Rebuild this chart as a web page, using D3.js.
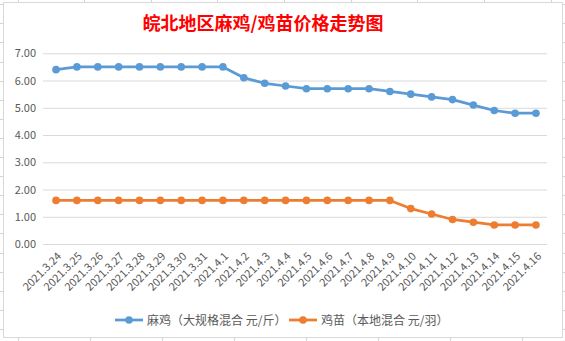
<!DOCTYPE html>
<html><head><meta charset="utf-8">
<script src="https://cdn.jsdelivr.net/npm/d3@7"></script>
<style>body{margin:0;background:#fff}svg{display:block}</style>
</head><body><svg id="c" width="565" height="341"></svg>
<script>
const title = "皖北地区麻鸡/鸡苗价格走势图";
const categories = ["2021.3.24","2021.3.25","2021.3.26","2021.3.27","2021.3.28","2021.3.29","2021.3.30","2021.3.31","2021.4.1","2021.4.2","2021.4.3","2021.4.4","2021.4.5","2021.4.6","2021.4.7","2021.4.8","2021.4.9","2021.4.10","2021.4.11","2021.4.12","2021.4.13","2021.4.14","2021.4.15","2021.4.16"];
const maji = [6.4,6.5,6.5,6.5,6.5,6.5,6.5,6.5,6.5,6.1,5.9,5.8,5.7,5.7,5.7,5.7,5.6,5.5,5.4,5.3,5.1,4.9,4.8,4.8];
const jimiao = [1.6,1.6,1.6,1.6,1.6,1.6,1.6,1.6,1.6,1.6,1.6,1.6,1.6,1.6,1.6,1.6,1.6,1.3,1.1,0.9,0.8,0.7,0.7,0.7];
const seriesNames = ["麻鸡（大规格混合 元/斤）","鸡苗（本地混合 元/羽）"];
const colors = ["#5B9BD5","#ED7D31"];
const yTicks = [0,1,2,3,4,5,6,7];

const svg = d3.select("#c");
const font = "'Noto Sans CJK SC', 'Microsoft YaHei', sans-serif";

// spreadsheet cell grid behind the chart
const bg = svg.append("g").attr("stroke","#d4d4d4").attr("stroke-width",1);
d3.range(0,18).forEach(i=>{ const y=Math.round(4.2+19.1*i)+0.5; bg.append("line").attr("x1",0).attr("x2",565).attr("y1",y).attr("y2",y); });
[18,84,151,217,284,351,417,484,551].forEach(x=>bg.append("line").attr("x1",x+0.5).attr("x2",x+0.5).attr("y1",0).attr("y2",4));
[18,90,162,234,306,378,450,522].forEach(x=>bg.append("line").attr("x1",x+0.5).attr("x2",x+0.5).attr("y1",337).attr("y2",341));

// chart area
svg.append("rect").attr("x",3.5).attr("y",2.5).attr("width",559).attr("height",335)
  .attr("fill","#fff").attr("stroke","#d9d9d9");

const x = d3.scaleBand().domain(categories).range([45.6,546.4]);
const y = d3.scaleLinear().domain([0,7]).range([244,53.3]);

svg.append("text").attr("x",263).attr("y",30).attr("text-anchor","middle")
  .attr("font-family",font).attr("font-size",18).attr("font-weight","bold")
  .attr("fill","#FF0000").text(title);

// gridlines
const ga = svg.append("g").attr("transform","translate(43,0)")
  .call(d3.axisLeft(y).tickValues(yTicks).tickSize(-504).tickFormat(d=>d.toFixed(2)).tickPadding(7));
ga.select(".domain").remove();
ga.selectAll(".tick line").attr("stroke","#d9d9d9");
ga.selectAll(".tick text").attr("fill","#595959").attr("font-family",font).attr("font-size",11);

// x axis
const xa = svg.append("g").attr("transform","translate(0,244)")
  .call(d3.axisBottom(x).tickSize(0).tickFormat(d=>d));
xa.select(".domain").remove();
xa.selectAll(".tick text").attr("fill","#595959").attr("font-family",font).attr("font-size",11)
  .attr("text-anchor","end").attr("dy",0).attr("y",0)
  .attr("transform","translate(6,13) rotate(-45)");

const line = d3.line().x((d,i)=>x(categories[i])+x.bandwidth()/2).y(d=>y(d));
[maji,jimiao].forEach((s,k)=>{
  const g = svg.append("g");
  g.append("path").datum(s).attr("d",line).attr("fill","none").attr("stroke",colors[k])
   .attr("stroke-width",2.75).attr("stroke-linejoin","round");
  g.selectAll("circle").data(s).join("circle")
   .attr("cx",(d,i)=>x(categories[i])+x.bandwidth()/2).attr("cy",d=>y(d)).attr("r",3.8).attr("fill",colors[k]);
});

// legend
const legX = [115,289];
seriesNames.forEach((n,k)=>{
  const g = svg.append("g").attr("transform",`translate(${legX[k]},320)`);
  g.append("line").attr("x1",0).attr("x2",28).attr("stroke",colors[k]).attr("stroke-width",2.75);
  g.append("circle").attr("cx",14).attr("r",3.8).attr("fill",colors[k]);
  g.append("text").attr("x",32).attr("y",4.5).attr("font-family",font).attr("font-size",12)
   .attr("fill","#595959").text(n);
});
</script></body></html>
